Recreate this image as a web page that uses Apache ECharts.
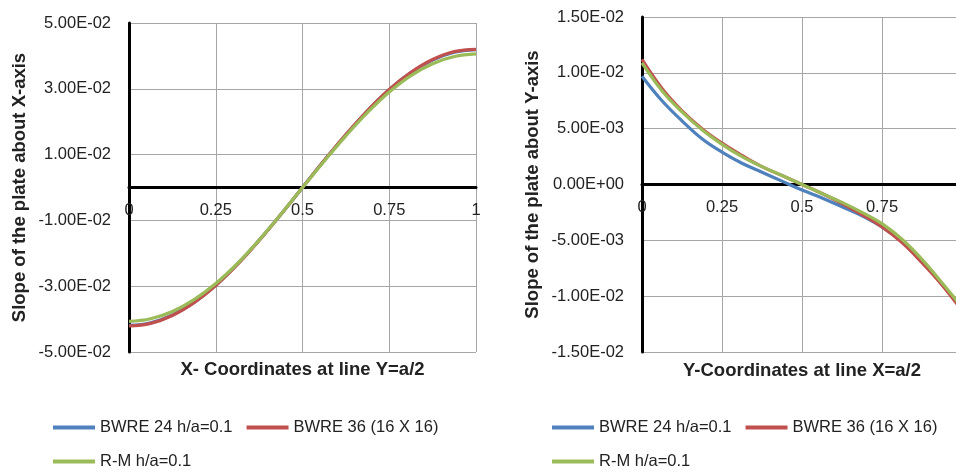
<!DOCTYPE html>
<html>
<head>
<meta charset="utf-8">
<script src="https://cdn.jsdelivr.net/npm/echarts@6/dist/echarts.min.js"></script>
<style>
  html, body { margin: 0; padding: 0; background: #fff; }
  #chart { width: 956px; height: 472px; }
</style>
</head>
<body>
<div id="chart"></div>
<script>
// Mesh coordinates along the centre lines (16 divisions)
const coords = [0, 0.0625, 0.125, 0.1875, 0.25, 0.3125, 0.375, 0.4375, 0.5,
                0.5625, 0.625, 0.6875, 0.75, 0.8125, 0.875, 0.9375, 1];

const seriesNames = ['BWRE 24 h/a=0.1', 'BWRE 36 (16 X 16)', 'R-M h/a=0.1'];
const seriesColors = ['#4F81BD', '#C0504D', '#9BBB59'];

// Slope about X-axis along Y = a/2
const slopeX_bwre24 = [-0.0419, -0.0411, -0.0387, -0.0349, -0.0297, -0.0233, -0.0160, -0.0082, 0,
                       0.0082, 0.0160, 0.0233, 0.0297, 0.0349, 0.0387, 0.0411, 0.0419];
const slopeX_bwre36 = [-0.0421, -0.0413, -0.0389, -0.0350, -0.0298, -0.0234, -0.0161, -0.0082, 0,
                       0.0082, 0.0161, 0.0234, 0.0298, 0.0350, 0.0389, 0.0413, 0.0420];
const slopeX_rm     = [-0.0407, -0.0399, -0.0377, -0.0341, -0.0292, -0.0231, -0.0160, -0.0082, 0,
                       0.0080, 0.0157, 0.0228, 0.0290, 0.0340, 0.0376, 0.0398, 0.0406];

// Slope about Y-axis along X = a/2
const slopeY_bwre24 = [0.0097, 0.0075, 0.0057, 0.0041, 0.0029, 0.0019, 0.0011, 0.0003, -0.0005,
                       -0.0012, -0.0020, -0.0028, -0.0038, -0.0051, -0.0068, -0.0089, -0.0112];
const slopeY_bwre36 = [0.0112, 0.0086, 0.0066, 0.0050, 0.0037, 0.0026, 0.0016, 0.0008, 0.0000,
                       -0.0008, -0.0017, -0.0027, -0.0038, -0.0052, -0.0070, -0.0090, -0.0113];
const slopeY_rm     = [0.0109, 0.0084, 0.0065, 0.0049, 0.0036, 0.0025, 0.0016, 0.0008, 0.0000,
                       -0.0008, -0.0016, -0.0025, -0.0035, -0.0049, -0.0067, -0.0088, -0.0110];

const xTickValues = [0, 0.25, 0.5, 0.75, 1];

const FONT = 'Liberation Sans';
const TEXT = '#222222';

const grids = [
  { left: 129, top: 23, width: 347, height: 329 },
  { left: 642, top: 17, width: 320, height: 335 }
];
const yRanges = [
  { min: -0.05, max: 0.05, step: 0.02 },
  { min: -0.015, max: 0.015, step: 0.005 }
];

function sci(v) {
  const [m, e] = Number(v).toExponential(2).split('e');
  const sign = e[0] === '-' ? '-' : '+';
  const digits = e.replace(/[+-]/, '').padStart(2, '0');
  return m.replace(/^-?0\.00$/, '0.00') + 'E' + sign + digits;
}

function pairs(ys) { return coords.map((x, i) => [x, ys[i]]); }

// The horizontal axis sits on the y = 0 line, labels included
function zeroOffset(g) {
  const r = yRanges[g];
  return -grids[g].height * (0 - r.min) / (r.max - r.min);
}

function xAxisCfg(g, name, gap) {
  return {
    type: 'value', gridIndex: g, min: 0, max: 1, interval: 0.25,
    position: 'bottom', offset: zeroOffset(g),
    axisLine: { onZero: false, lineStyle: { color: '#000', width: 3 } },
    axisTick: { show: false },
    axisLabel: { color: TEXT, fontFamily: FONT, fontSize: 16.5, margin: 14,
                 formatter: v => xTickValues.includes(+v.toFixed(4)) ? String(+v.toFixed(4)) : '' },
    splitLine: { show: true, lineStyle: { color: '#a6a6a6', width: 1 } },
    name: name, nameLocation: 'middle', nameGap: gap,
    nameTextStyle: { color: TEXT, fontFamily: FONT, fontSize: 18.5, fontWeight: 'bold' }
  };
}

function yAxisCfg(g, name) {
  const r = yRanges[g];
  return {
    type: 'value', gridIndex: g, min: r.min, max: r.max, interval: r.step,
    axisLine: { show: true, onZero: false, lineStyle: { color: '#000', width: 3 } },
    axisTick: { show: false },
    axisLabel: { color: TEXT, fontFamily: FONT, fontSize: 16.5, margin: 18, formatter: sci },
    splitLine: { show: true, lineStyle: { color: '#a6a6a6', width: 1 } },
    name: name, nameLocation: 'middle', nameRotate: 90, nameGap: 100,
    nameTextStyle: { color: TEXT, fontFamily: FONT, fontSize: 18.5, fontWeight: 'bold' }
  };
}

function lineSeries(i, g, ys) {
  return {
    name: seriesNames[i], type: 'line', xAxisIndex: g, yAxisIndex: g,
    data: pairs(ys), smooth: 0.4, showSymbol: false, symbol: 'none',
    lineStyle: { color: seriesColors[i], width: 3.2 },
    itemStyle: { color: seriesColors[i] },
    z: 2 + i
  };
}

function legendCfg(left, top, names) {
  return {
    left: left, top: top, orient: 'horizontal', data: names, padding: 0,
    icon: 'rect', itemWidth: 42, itemHeight: 4, itemGap: 14,
    textStyle: { color: TEXT, fontFamily: FONT, fontSize: 16.5 },
    selectedMode: false
  };
}

const chart = echarts.init(document.getElementById('chart'), null, { renderer: 'canvas' });
chart.setOption({
  backgroundColor: '#fff',
  animation: false,
  grid: grids.map(g => Object.assign({ outerBoundsMode: 'none', containLabel: false }, g)),
  xAxis: [
    xAxisCfg(0, 'X- Coordinates at line Y=a/2', 173),
    xAxisCfg(1, 'Y-Coordinates at line X=a/2', 177)
  ],
  yAxis: [
    yAxisCfg(0, 'Slope of the plate about X-axis'),
    yAxisCfg(1, 'Slope of the plate about Y-axis')
  ],
  legend: [
    legendCfg(53, 419, seriesNames.slice(0, 2)),
    legendCfg(53, 453, seriesNames.slice(2)),
    legendCfg(552, 419, seriesNames.slice(0, 2)),
    legendCfg(552, 453, seriesNames.slice(2))
  ],
  series: [
    lineSeries(0, 0, slopeX_bwre24),
    lineSeries(1, 0, slopeX_bwre36),
    lineSeries(2, 0, slopeX_rm),
    lineSeries(0, 1, slopeY_bwre24),
    lineSeries(1, 1, slopeY_bwre36),
    lineSeries(2, 1, slopeY_rm)
  ]
});
</script>
</body>
</html>
